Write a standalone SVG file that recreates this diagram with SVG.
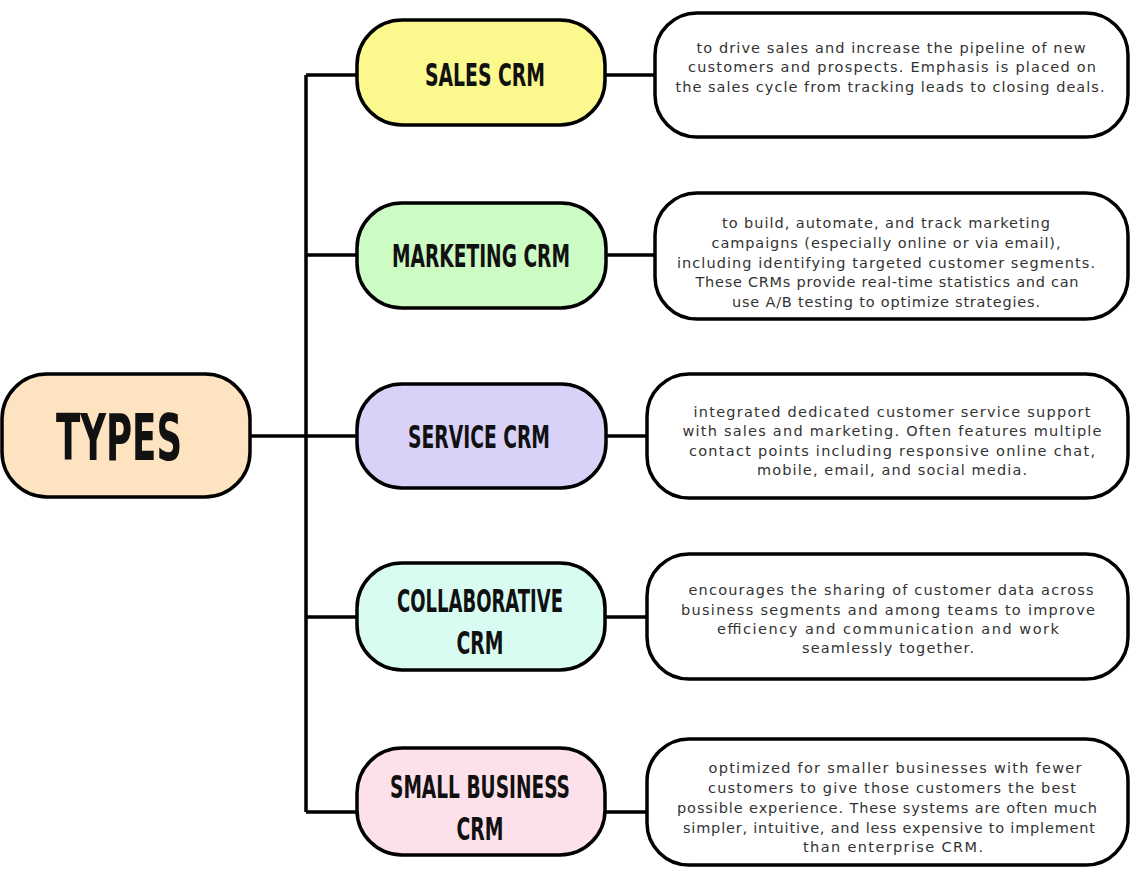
<svg xmlns="http://www.w3.org/2000/svg" width="1131" height="871" viewBox="0 0 1131 871">
<style>
.box{stroke:#000;stroke-width:3.5}
.desc{fill:#fff;stroke:#000;stroke-width:3.5}
.conn{fill:none;stroke:#000;stroke-width:3.5}
.t{font-family:"DejaVu Sans Condensed","Liberation Sans Narrow","DejaVu Sans",sans-serif;font-weight:bold;font-size:32px;fill:#111;text-anchor:middle}
.d{font-family:"DejaVu Sans","Open Sans","Liberation Sans",sans-serif;font-size:14.5px;fill:#333;text-anchor:middle}
</style>
<rect width="1131" height="871" fill="#fff"/>
<g id="connectors">
<path class="conn" d="M306 75 V812"/>
<path class="conn" d="M250 436 H357"/>
<path class="conn" d="M306 75 H357 M605 75 H655"/>
<path class="conn" d="M306 255 H357 M605 255 H655"/>
<path class="conn" d="M605 436 H647"/>
<path class="conn" d="M306 617 H357 M605 617 H647"/>
<path class="conn" d="M306 812 H357 M605 812 H647"/>
</g>
<g id="types">
<rect class="box" x="2" y="374" width="248" height="123" rx="45" fill="#fde3c0"/>
<text class="t" x="119" y="460" style="font-size:64px" textLength="126" lengthAdjust="spacingAndGlyphs">TYPES</text>
</g>
<g id="sales">
<rect class="box" x="357" y="20" width="248" height="105" rx="45" fill="#fbf88e"/>
<text class="t" x="485" y="86" textLength="120" lengthAdjust="spacingAndGlyphs">SALES CRM</text>
</g>
<g id="sales-desc">
<rect class="desc" x="655" y="13" width="473" height="124" rx="42"/>
<text class="d" x="891" y="53" textLength="389" lengthAdjust="spacing">to drive sales and increase the pipeline of new</text>
<text class="d" x="892" y="72" textLength="408" lengthAdjust="spacing">customers and prospects. Emphasis is placed on</text>
<text class="d" x="890" y="92" textLength="429" lengthAdjust="spacing">the sales cycle from tracking leads to closing deals.</text>
</g>
<g id="marketing">
<rect class="box" x="357" y="203" width="249" height="105" rx="45" fill="#ccfbc4"/>
<text class="t" x="481" y="267" textLength="178" lengthAdjust="spacingAndGlyphs">MARKETING CRM</text>
</g>
<g id="marketing-desc">
<rect class="desc" x="655" y="193" width="473" height="126" rx="42"/>
<text class="d" x="886" y="228" textLength="328" lengthAdjust="spacing">to build, automate, and track marketing</text>
<text class="d" x="886" y="248" textLength="349" lengthAdjust="spacing">campaigns (especially online or via email),</text>
<text class="d" x="886" y="268" textLength="418" lengthAdjust="spacing">including identifying targeted customer segments.</text>
<text class="d" x="887" y="287" textLength="383" lengthAdjust="spacing">These CRMs provide real-time statistics and can</text>
<text class="d" x="886" y="307" textLength="308" lengthAdjust="spacing">use A/B testing to optimize strategies.</text>
</g>
<g id="service">
<rect class="box" x="357" y="384" width="249" height="104" rx="45" fill="#d8d1f8"/>
<text class="t" x="479" y="448" textLength="142" lengthAdjust="spacingAndGlyphs">SERVICE CRM</text>
</g>
<g id="service-desc">
<rect class="desc" x="647" y="374" width="481" height="124" rx="42"/>
<text class="d" x="892" y="417" textLength="397" lengthAdjust="spacing">integrated dedicated customer service support</text>
<text class="d" x="892" y="436" textLength="419" lengthAdjust="spacing">with sales and marketing. Often features multiple</text>
<text class="d" x="892" y="456" textLength="406" lengthAdjust="spacing">contact points including responsive online chat,</text>
<text class="d" x="892" y="475" textLength="270" lengthAdjust="spacing">mobile, email, and social media.</text>
</g>
<g id="collaborative">
<rect class="box" x="357" y="563" width="248" height="107" rx="45" fill="#d8fcf2"/>
<text class="t" x="480" y="612" textLength="166" lengthAdjust="spacingAndGlyphs">COLLABORATIVE</text>
<text class="t" x="480" y="654" textLength="47" lengthAdjust="spacingAndGlyphs">CRM</text>
</g>
<g id="collaborative-desc">
<rect class="desc" x="647" y="554" width="481" height="125" rx="42"/>
<text class="d" x="891" y="595" textLength="405" lengthAdjust="spacing">encourages the sharing of customer data across</text>
<text class="d" x="888" y="615" textLength="414" lengthAdjust="spacing">business segments and among teams to improve</text>
<text class="d" x="888" y="634" textLength="342" lengthAdjust="spacing">efficiency and communication and work</text>
<text class="d" x="888" y="653" textLength="172" lengthAdjust="spacing">seamlessly together.</text>
</g>
<g id="small-business">
<rect class="box" x="357" y="748" width="248" height="107" rx="45" fill="#fde1ea"/>
<text class="t" x="480" y="798" textLength="180" lengthAdjust="spacingAndGlyphs">SMALL BUSINESS</text>
<text class="t" x="480" y="840" textLength="47" lengthAdjust="spacingAndGlyphs">CRM</text>
</g>
<g id="small-business-desc">
<rect class="desc" x="647" y="739" width="481" height="126" rx="42"/>
<text class="d" x="895" y="773" textLength="373" lengthAdjust="spacing">optimized for smaller businesses with fewer</text>
<text class="d" x="892" y="793" textLength="368" lengthAdjust="spacing">customers to give those customers the best</text>
<text class="d" x="887" y="813" textLength="420" lengthAdjust="spacing">possible experience. These systems are often much</text>
<text class="d" x="889" y="833" textLength="412" lengthAdjust="spacing">simpler, intuitive, and less expensive to implement</text>
<text class="d" x="893" y="852" textLength="180" lengthAdjust="spacing">than enterprise CRM.</text>
</g>
</svg>
